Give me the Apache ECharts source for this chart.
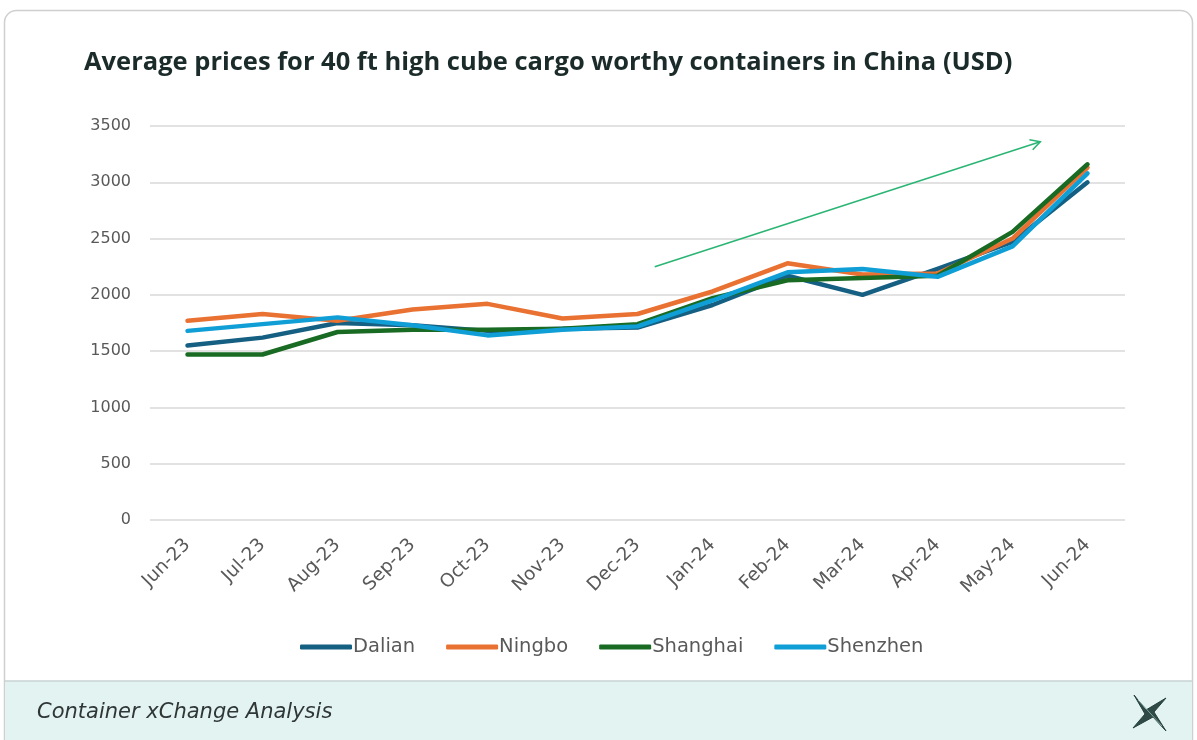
<!DOCTYPE html>
<html>
<head>
<meta charset="utf-8">
<style>
  html, body { margin: 0; padding: 0; background: #ffffff; }
  #chart { width: 1197px; height: 740px; }
</style>
<script src="https://cdn.jsdelivr.net/npm/echarts@6/dist/echarts.min.js"></script>
</head>
<body>
<div id="chart"></div>
<script>
// Monthly categories
const months = ['Jun-23', 'Jul-23', 'Aug-23', 'Sep-23', 'Oct-23', 'Nov-23', 'Dec-23',
                'Jan-24', 'Feb-24', 'Mar-24', 'Apr-24', 'May-24', 'Jun-24'];

// Average 40ft HC cargo-worthy container prices (USD)
const dalian   = [1550, 1620, 1750, 1730, 1680, 1700, 1710, 1910, 2170, 2000, 2230, 2470, 3000];
const ningbo   = [1770, 1830, 1770, 1870, 1920, 1790, 1830, 2030, 2280, 2180, 2190, 2500, 3130];
const shanghai = [1470, 1470, 1670, 1690, 1690, 1700, 1740, 1970, 2130, 2150, 2170, 2560, 3160];
const shenzhen = [1680, 1740, 1800, 1730, 1640, 1690, 1720, 1950, 2200, 2230, 2160, 2430, 3080];

const yTicks = { min: 0, max: 3500, interval: 500 };

// Trend arrow, expressed as [category index, value]
const trendFrom = [6.23, 2250];
const trendTo   = [11.37, 3360];

const seriesDefs = [
  { name: 'Dalian',   data: dalian,   color: '#156082' },
  { name: 'Ningbo',   data: ningbo,   color: '#E97132' },
  { name: 'Shanghai', data: shanghai, color: '#196B24' },
  { name: 'Shenzhen', data: shenzhen, color: '#0F9ED5' }
];

const chart = echarts.init(document.getElementById('chart'), null, { renderer: 'canvas' });

const option = {
  backgroundColor: '#ffffff',
  animation: false,
  title: {
    text: 'Average prices for 40 ft high cube cargo worthy containers in China (USD)',
    left: 79,
    top: 45,
    textStyle: {
      fontFamily: 'Open Sans',
      fontWeight: 700,
      fontSize: 25.5,
      color: '#1b2b2a'
    }
  },
  legend: {
    left: 295,
    top: 632,
    itemWidth: 52,
    itemHeight: 5,
    itemGap: 31,
    icon: 'roundRect',
    textStyle: {
      fontFamily: 'DejaVu Sans',
      fontSize: 19.5,
      color: '#595959',
      padding: [0, 0, 0, -4]
    },
    data: seriesDefs.map(s => s.name)
  },
  grid: {
    left: 150,
    right: 72,
    top: 126,
    bottom: 220,
    containLabel: false
  },
  xAxis: {
    type: 'category',
    data: months,
    boundaryGap: true,
    axisLine: { show: false },
    axisTick: { show: false },
    axisLabel: {
      rotate: 45,
      margin: 22,
      fontFamily: 'DejaVu Sans',
      fontSize: 18.5,
      color: '#595959'
    }
  },
  yAxis: {
    type: 'value',
    min: yTicks.min,
    max: yTicks.max,
    interval: yTicks.interval,
    axisLine: { show: false },
    axisTick: { show: false },
    splitLine: { lineStyle: { color: '#d9d9d9', width: 1.5 } },
    axisLabel: {
      margin: 19,
      fontFamily: 'DejaVu Sans',
      fontSize: 16,
      color: '#595959',
      formatter: v => String(v)
    }
  },
  series: seriesDefs.map(s => ({
    name: s.name,
    type: 'line',
    data: s.data,
    symbol: 'none',
    smooth: false,
    itemStyle: { color: s.color },
    lineStyle: { color: s.color, width: 4.5, cap: 'round', join: 'round' }
  }))
};

chart.setOption(option);

// Pixel position for a fractional category index and a value
function toPixel(pt) {
  const i = Math.floor(pt[0]);
  const f = pt[0] - i;
  const a = chart.convertToPixel({ gridIndex: 0 }, [i, pt[1]]);
  const b = chart.convertToPixel({ gridIndex: 0 }, [i + 1, pt[1]]);
  return [a[0] + (b[0] - a[0]) * f, a[1]];
}

// Card frame, footer band, trend arrow and logo
function drawDecor() {
  const p0 = toPixel(trendFrom);
  const p1 = toPixel(trendTo);
  const ang = Math.atan2(p1[1] - p0[1], p1[0] - p0[0]);
  const headLen = 11, headAng = 0.5;
  const h1 = [p1[0] - headLen * Math.cos(ang - headAng), p1[1] - headLen * Math.sin(ang - headAng)];
  const h2 = [p1[0] - headLen * Math.cos(ang + headAng), p1[1] - headLen * Math.sin(ang + headAng)];

  const cx = 1150, cy = 713;
  const star = [
    [-16, -18], [-4, -3], [16, -15], [4, -1],
    [16, 18], [3, 4], [-17, 15], [-5, 1]
  ].map(p => [cx + p[0], cy + p[1]]);

  chart.setOption({
    graphic: [
      {
        type: 'rect', z: -10, silent: true,
        shape: { x: 4.5, y: 10.5, width: 1188, height: 760, r: 12 },
        style: { fill: '#ffffff', stroke: '#cfcfcf', lineWidth: 1.5 }
      },
      {
        type: 'rect', z: -9, silent: true,
        shape: { x: 5, y: 681, width: 1187, height: 70 },
        style: { fill: '#e3f3f1', stroke: null }
      },
      {
        type: 'line', z: -8, silent: true,
        shape: { x1: 5, y1: 681, x2: 1192, y2: 681 },
        style: { stroke: '#c9d3d2', lineWidth: 1.5 }
      },
      {
        type: 'text', silent: true,
        left: 37, top: 702,
        style: {
          text: 'Container xChange Analysis',
          font: 'oblique 21px "DejaVu Sans"',
          fill: '#2f3636'
        }
      },
      {
        type: 'polygon', silent: true,
        shape: { points: star },
        style: { fill: '#2f4a47', stroke: '#24403d', lineWidth: 1 }
      },
      {
        type: 'polyline', silent: true,
        shape: { points: [[cx - 12, cy - 13], [cx + 12, cy + 13]] },
        style: { stroke: '#7fa39f', lineWidth: 1, fill: null }
      },
      {
        type: 'line', silent: true, z: 5,
        shape: { x1: p0[0], y1: p0[1], x2: p1[0], y2: p1[1] },
        style: { stroke: '#2bb574', lineWidth: 1.6 }
      },
      {
        type: 'polyline', silent: true, z: 5,
        shape: { points: [h1, p1, h2] },
        style: { stroke: '#2bb574', lineWidth: 1.6, fill: null }
      }
    ]
  });
}
drawDecor();
</script>
</body>
</html>
